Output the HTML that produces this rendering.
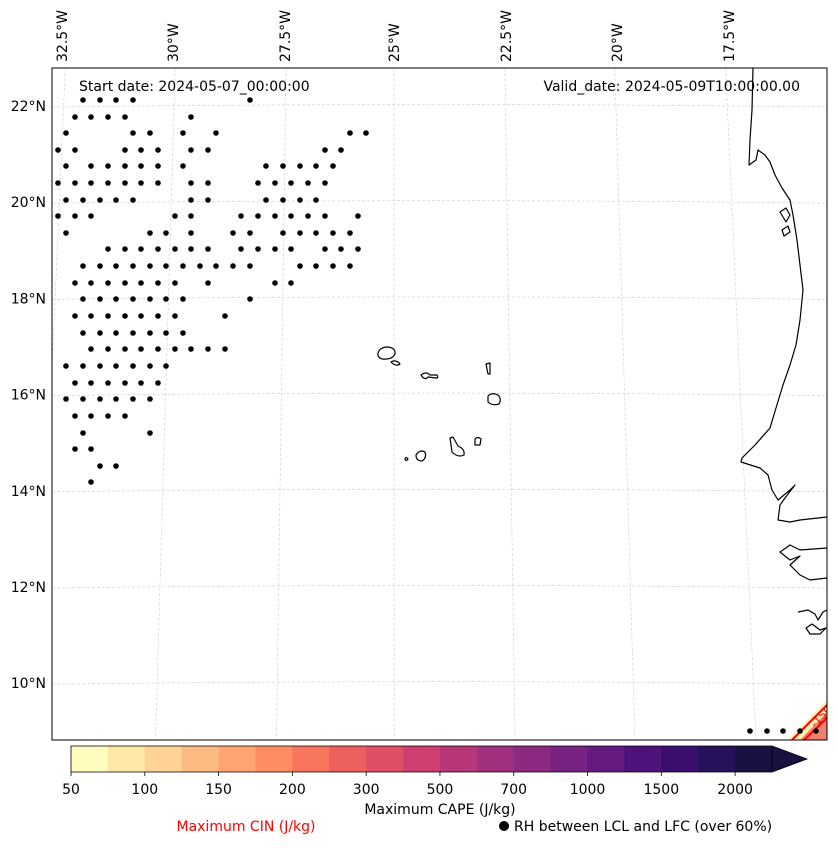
<!DOCTYPE html>
<html><head><meta charset="utf-8"><style>
body{margin:0;background:#fff;}
svg text{font-family:"DejaVu Sans","Liberation Sans",sans-serif;}
</style></head><body>
<svg id="chart" width="837" height="845" viewBox="0 0 837 845" xmlns="http://www.w3.org/2000/svg">
<defs><clipPath id="mapclip"><rect x="52" y="68" width="775" height="672"/></clipPath></defs>
<g id="grid" clip-path="url(#mapclip)"></g>
<g id="coast" clip-path="url(#mapclip)" fill="none" stroke="#000" stroke-width="1.2" stroke-linejoin="round">
<path d="M753,68 L752,110 L750,140 L749,165 L756,160 L758,150 L765,155 L770,162 L775,175 L782,188 L790,200 L793,215 L797,240 L800,265 L803,290 L800,320 L796,345 L790,365 L783,385 L776,408 L770,428 L755,445 L742,458 L741,462 L760,468 L768,475 L772,490 L778,500 L790,490 L795,485 L785,498 L780,505 L778,520 L790,522 L800,520 L827,517"/>
<path d="M827,548 L800,550 L790,545 L780,552 L790,560 L800,556 L790,565 L800,575 L810,580 L827,578"/>
<path d="M798,612 L808,610 L815,614 L818,620 L823,612 L827,610 M806,628 L812,624 L820,630 L826,628 L820,634 L810,634 Z"/>
<path d="M780,212 L786,208 L790,215 L786,222 Z M782,230 L788,226 L790,232 L784,236 Z"/>
<path d="M378,353 Q380,347 388,347 Q396,348 395,354 Q392,360 382,359 Q377,357 378,353 Z"/>
<path d="M391,362 Q396,359 400,364 Q396,367 391,362 Z"/>
<path d="M421,375 Q426,371 430,375 L437,375 Q439,378 436,378 L428,377 Q425,381 421,375 Z"/>
<path d="M486,364 L490,363 L490,374 L488,374 Z"/>
<path d="M488,396 Q492,392 498,395 Q502,399 499,404 Q492,406 488,402 Z"/>
<path d="M450,438 L453,437 L458,446 Q465,449 464,455 Q458,458 452,452 Z"/>
<path d="M475,439 Q478,436 481,439 L480,445 L475,445 Z"/>
<path d="M416,455 Q420,449 425,452 Q427,458 422,461 Q416,461 416,455 Z"/>
<path d="M405,459 Q406,456 408,459 Q406,462 405,459 Z"/>
</g>
<g id="cin" clip-path="url(#mapclip)">
<path d="M788,740 L827,700 L827,740 Z" fill="#fdf4b0"/>
<path d="M800,740 L827,712 L827,740 Z" fill="#f08070"/>
<path d="M792,740 L827,705 M804,740 L827,718" stroke="#ff0000" stroke-width="2" fill="none"/>
<text x="815" y="728" font-size="11" fill="#ff0000" transform="rotate(-45 815 728)">-150</text>
</g>
<g id="dots" clip-path="url(#mapclip)"></g>
<rect x="52" y="68" width="775" height="672" fill="none" stroke="#000" stroke-width="1"/>
<text x="79" y="91" font-size="14">Start date: 2024-05-07_00:00:00</text>
<text x="800" y="91" font-size="14" text-anchor="end">Valid_date: 2024-05-09T10:00:00.00</text>
<g id="latlabels"></g>
<g id="lonlabels"></g>
<g id="cbar"></g>
<text x="440" y="814" font-size="14" text-anchor="middle">Maximum CAPE (J/kg)</text>
<text x="246" y="831" font-size="14" text-anchor="middle" fill="#ff0000">Maximum CIN (J/kg)</text>
<circle cx="504" cy="826" r="5" fill="#000"/>
<text x="514" y="831" font-size="14">RH between LCL and LFC (over 60%)</text>
</svg>
<script>
const NS="http://www.w3.org/2000/svg";
const latTicks=[22,20,18,16,14,12,10];
const lonTicks=["32.5°W","30°W","27.5°W","25°W","22.5°W","20°W","17.5°W"];
const lonTopX=[62,173,285,394,506,617,729];
const levels=[50,75,100,125,150,175,200,250,300,400,500,600,700,850,1000,1250,1500,1750,2000];
const tickLabels=[50,100,150,200,300,500,700,1000,1500,2000];
const colors=["#fffcbf","#fee8a5","#fed395","#febb81","#fea572","#fc8d61","#f7755c","#ee605e","#e04f67","#cd4071","#b73779","#a1307e","#8c2981","#782281","#641a80","#4f127b","#3b0f70","#26125a","#1a1042"];
const dotRowsY=[100,117,133,150,166,183,200,216,233,249,266,283,299,316,333,349,366,383,399,416,433,449,466,482,731];
const dotRowsX=[
[83,100,116,133,250],
[75,91,108,125,191],
[66,133,150,183,216,350,366],
[58,75,125,141,158,191,208,325,341],
[66,91,108,125,141,158,183,266,283,300,316,333],
[58,75,91,108,125,141,158,191,208,258,275,291,308,325],
[66,83,100,116,133,191,208,266,283,300,316],
[58,75,91,175,191,241,258,275,291,308,325,358],
[66,150,166,191,233,250,283,300,316,333,350],
[108,125,141,158,175,191,208,241,258,275,291,325,341,358],
[83,100,116,133,150,166,183,200,216,233,250,300,316,333,350],
[75,91,108,125,141,158,175,208,275,291],
[83,100,116,133,150,166,183,250],
[75,91,108,125,141,158,175,225],
[83,100,116,133,150,166,183],
[91,108,125,141,158,175,191,208,225],
[66,83,100,116,133,150,166],
[75,91,108,125,141,158],
[66,83,100,116,133,150],
[75,91,108,125],
[83,150],
[75,91],
[100,116],
[91],
[750,767,783,800,816]
];
function mk(tag,attrs,parent){const e=document.createElementNS(NS,tag);for(const k in attrs)e.setAttribute(k,attrs[k]);parent.appendChild(e);return e;}
const latY=v=>106+(22-v)*48.1;
const grid=document.getElementById('grid');
latTicks.forEach(v=>{
  const y=latY(v);
  const p=mk('path',{d:`M52,${y+1} Q440,${y-4} 827,${y+1}`,stroke:"#ccc","stroke-width":0.6,"stroke-dasharray":"3,2",fill:"none"},grid);
  
  
  const t=mk('text',{x:46,y:y+5,"font-size":14,"text-anchor":"end"},document.getElementById('latlabels'));
  
  
  t.textContent=v+"°N";
});
lonTicks.forEach((s,i)=>{
  const xt=lonTopX[i];const xb=xt+(xt-392)*0.08;
  const p=mk('line',{x1:xt+(xt-392)*-0.01,y1:68,x2:xb,y2:740,stroke:"#ccc","stroke-width":0.6,"stroke-dasharray":"3,2"},grid);
  
  
  const t=mk('text',{x:xt+5,y:62,"font-size":14,transform:`rotate(-90 ${xt+5} 62)`},document.getElementById('lonlabels'));
  
  
  t.textContent=s;
});
const dots=document.getElementById('dots');
dotRowsY.forEach((y,r)=>dotRowsX[r].forEach(x=>{
  const c=mk('circle',{cx:x,cy:y,r:2.8,fill:"#000"},dots);
  
  
}));
const cb=document.getElementById('cbar');
const x0=71,x1=772,y0=746,y1=772;const w=(x1-x0)/levels.length;
levels.forEach((lv,i)=>{
  const r=mk('rect',{x:x0+i*w,y:y0,width:w+0.5,height:y1-y0,fill:colors[i]},cb);
  
  
});
const tri=mk('path',{d:`M${x1},${y0} L807,${(y0+y1)/2} L${x1},${y1} Z`,fill:colors[colors.length-1],stroke:"#000","stroke-width":0.8},cb);


const fr=mk('path',{d:`M${x1},${y0} L${x0},${y0} L${x0},${y1} L${x1},${y1}`,fill:"none",stroke:"#000","stroke-width":0.8},cb);


tickLabels.forEach(v=>{
  const i=levels.indexOf(v);const x=x0+i*w;
  const tk=mk('line',{x1:x,y1:y1,x2:x,y2:y1+4,stroke:"#000","stroke-width":0.8},cb);
  
  
  const t=mk('text',{x:x,y:794,"font-size":14,"text-anchor":"middle"},cb);
  
  
  t.textContent=v;
});
</script>
</body></html>
